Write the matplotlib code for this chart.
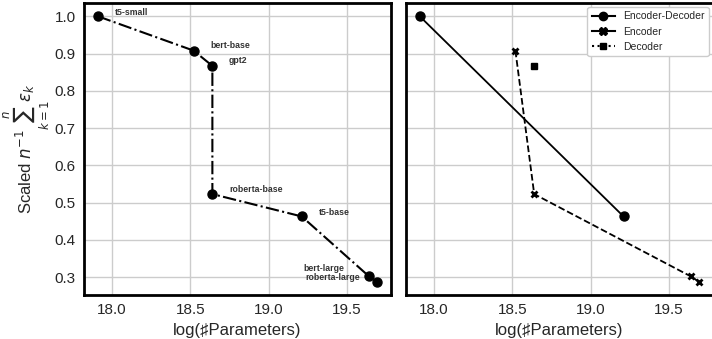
import matplotlib
matplotlib.use('Agg')
import matplotlib.pyplot as plt
from matplotlib.lines import Line2D

# log(#parameters) and scaled mean error for each model
models = ['t5-small', 'bert-base', 'gpt2', 'roberta-base', 't5-base',
          'bert-large', 'roberta-large']
log_params = [17.91, 18.52, 18.64, 18.64, 19.21, 19.64, 19.69]
scaled_err = [1.000, 0.908, 0.867, 0.523, 0.463, 0.302, 0.288]

enc_dec = ['t5-small', 't5-base']
encoder = ['bert-base', 'roberta-base', 'bert-large', 'roberta-large']
decoder = ['gpt2']

plt.rcParams['font.family'] = ['Liberation Sans', 'DejaVu Sans']
plt.rcParams['mathtext.fontset'] = 'dejavusans'


def _pick(names):
    idx = [models.index(n) for n in names]
    return [log_params[i] for i in idx], [scaled_err[i] for i in idx]


def _style(ax):
    ax.grid(True, color='#cccccc', linewidth=1.0)
    ax.set_axisbelow(True)
    for sp in ax.spines.values():
        sp.set_color('black')
        sp.set_linewidth(2.0)
    ax.tick_params(axis='both', labelsize=11, length=0, pad=6,
                   labelcolor='#262626')
    ax.set_xlabel('log(\u266fParameters)', fontsize=12, color='#262626')
    ax.set_xticks([18.0, 18.5, 19.0, 19.5])


fig = plt.figure(figsize=(7.12, 3.39), dpi=100)
ax1 = fig.add_axes([0.118, 0.130, 0.431, 0.861])
ax2 = fig.add_axes([0.570, 0.130, 0.431, 0.861], sharex=ax1, sharey=ax1)

# left: all models sorted by size, annotated
ax1.plot(log_params, scaled_err, '-.', color='black', linewidth=1.5,
         marker='o', markersize=6.5, zorder=3)

label_offsets = {
    't5-small': (12, 3, 'left'),
    'bert-base': (12, 4, 'left'),
    'gpt2': (12, 4, 'left'),
    'roberta-base': (12, 3, 'left'),
    't5-base': (12, 3, 'left'),
    'bert-large': (-18, 5.5, 'right'),
    'roberta-large': (-12, 3, 'right'),
}
for name, x, y in zip(models, log_params, scaled_err):
    dx, dy, ha = label_offsets[name]
    ax1.annotate(name, (x, y), xytext=(dx, dy), textcoords='offset points',
                 ha=ha, va='center', fontsize=6.3, fontweight='bold',
                 color='#333333')
ax1.set_ylabel(r'Scaled $n^{-1}\sum_{k=1}^{n}\varepsilon_k$', fontsize=12,
               color='#262626', labelpad=2)
_style(ax1)

# right: grouped by architecture
x, y = _pick(enc_dec)
ax2.plot(x, y, '-', color='black', linewidth=1.3, marker='o', markersize=6.5)
x, y = _pick(encoder)
ax2.plot(x, y, '--', color='black', linewidth=1.3, marker='x',
         markersize=5, markeredgewidth=2)
x, y = _pick(decoder)
ax2.plot(x, y, ':', color='black', linewidth=1.3, marker='s', markersize=4.5)
_style(ax2)
ax2.tick_params(axis='y', labelleft=False)

handles = [
    Line2D([], [], color='black', linestyle='-', marker='o', markersize=6),
    Line2D([], [], color='black', linestyle='-', marker='X', markersize=6),
    Line2D([], [], color='black', linestyle=':', marker='s', markersize=4.5),
]
ax2.legend(handles, ['Encoder-Decoder', 'Encoder', 'Decoder'],
           loc='upper right', fontsize=7.5, frameon=True, fancybox=True,
           edgecolor='#cccccc', framealpha=1.0, handlelength=2.2,
           borderaxespad=0.4, labelcolor='#262626')

fig.savefig('out.png', dpi=100)
